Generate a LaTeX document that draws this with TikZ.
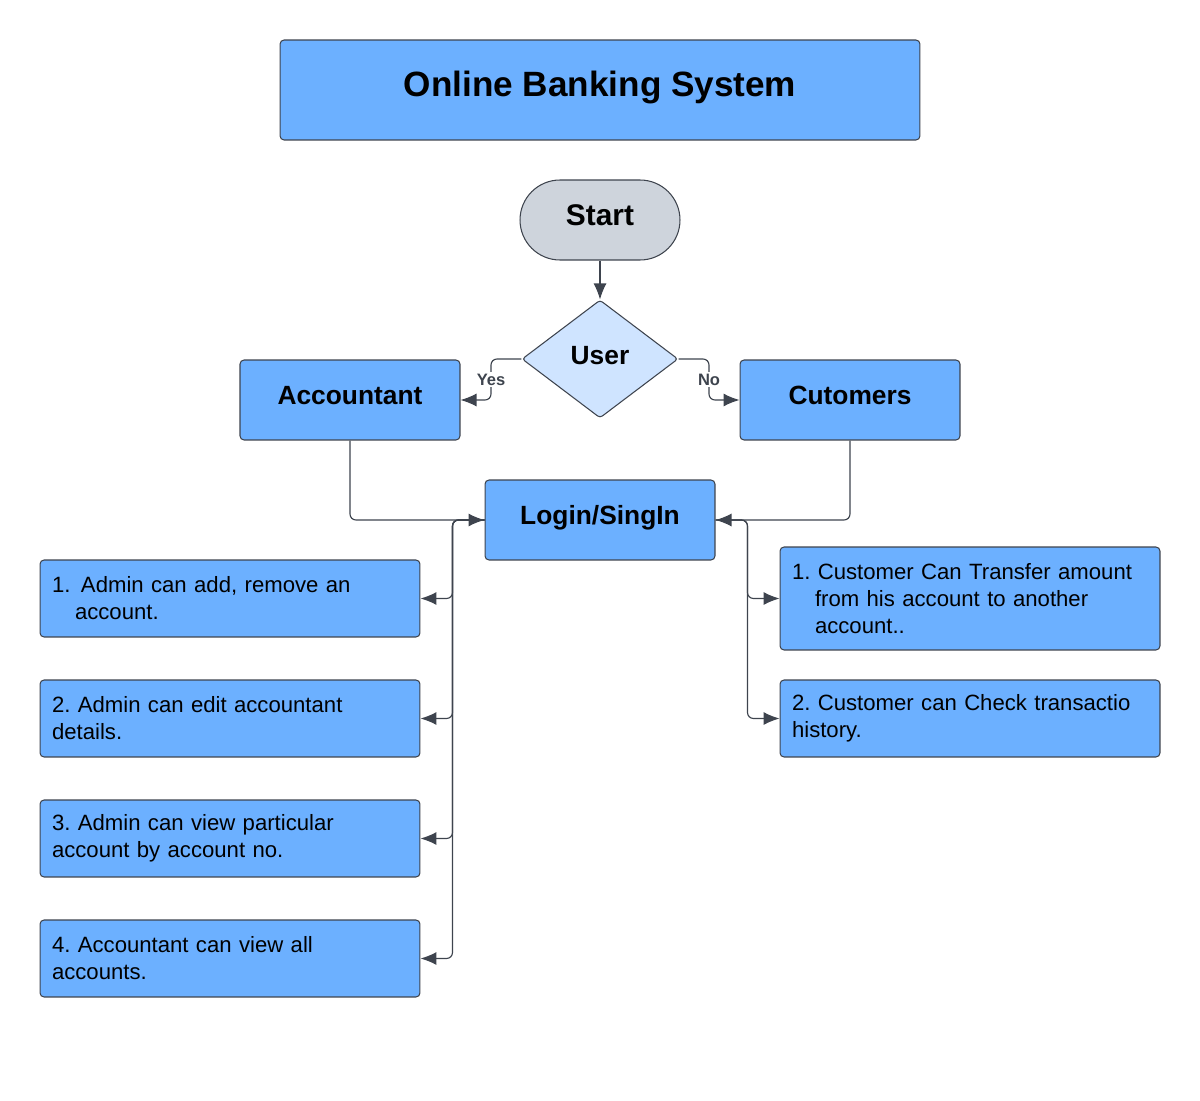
\documentclass[tikz,border=0pt]{standalone}
\usepackage{fontspec}
\setmainfont{Liberation Sans}
\usetikzlibrary{shapes.geometric,arrows.meta,calc}
\definecolor{boxblue}{RGB}{108,176,255}
\definecolor{lightblue}{RGB}{207,228,255}
\definecolor{startgray}{RGB}{206,212,220}
\definecolor{edge}{RGB}{62,68,78}
\frenchspacing

\begin{document}
\begin{tikzpicture}[x=0.02cm, y=-0.02cm,
        box/.style={draw=edge, fill=boxblue, rounded corners=0.08cm, line width=0.6pt},
        head/.style={box, font=\fontsize{15}{18}\selectfont\bfseries, text depth=0.2cm,
            minimum height=1.6cm, inner sep=0pt},
        item/.style={box, font=\fontsize{12.6}{15.3}\selectfont, align=left, text width=7.12cm,
            inner xsep=0.24cm, minimum width=7.6cm, minimum height=1.54cm},
        conn/.style={draw=edge, line width=0.65pt, rounded corners=0.12cm,
            -{Latex[length=0.32cm,width=0.26cm]}},
        lbl/.style={fill=white, inner sep=1pt, text=edge,
            font=\fontsize{9.4}{11}\selectfont\bfseries}]
        \useasboundingbox (0, 0) rectangle (1200, 1101);

        \node [box, minimum width=12.8cm, minimum height=2cm, inner sep=0pt, text depth=0.24cm,
            font=\fontsize{20}{24}\selectfont\bfseries] (title) at (600, 90) {Online Banking System};
        \node [head, fill=startgray, minimum width=3.2cm, rounded corners=0.8cm,
            font=\fontsize{17}{20}\selectfont\bfseries] (start) at (600, 220) {Start};
        \node [head, diamond, fill=lightblue, minimum width=3.12cm, minimum height=2.36cm,
            rounded corners=0.06cm, text depth=0.16cm] (user) at (600, 359) {User};
        \node [head, minimum width=4.4cm] (acc) at (350, 400) {Accountant};
        \node [head, minimum width=4.4cm] (cus) at (850, 400) {Cutomers};
        \node [head, minimum width=4.6cm] (login) at (600, 520) {Login/SingIn};

        % accountant tasks
        \node [item] (a1) at (230, 598.5) {1.\hspace{0.21cm}Admin can add, remove an\\\hspace*{0.46cm}account.};
        \node [item] (a2) at (230, 718.5) {2. Admin can edit accountant\\details.};
        \node [item] (a3) at (230, 838.5) {3. Admin can view particular\\account by account no.};
        \node [item] (a4) at (230, 958.5) {4. Accountant can view all\\accounts.};

        % customer tasks
        \node [item, minimum height=2.06cm] (c1) at (970, 598.5)
            {1. Customer Can Transfer amount\\\hspace*{0.46cm}from his account to another\\\hspace*{0.46cm}account..};
        \node [item] (c2) at (970, 718.5) {2. Customer can Check transactio\\history.};

        \draw [conn] (start) -- (user);
        \draw [conn] (user.west) -| ($(user.west)!0.5!(acc.east)$) |- (acc.east);
        \node [lbl] (yes) at ($(user.west)!0.5!(acc.east)$) {Yes};
        \draw [conn] (user.east) -| ($(user.east)!0.5!(cus.west)$) |- (cus.west);
        \node [lbl] (no) at ($(user.east)!0.5!(cus.west)$) {No};

        \draw [conn] (acc.south) |- (login.west);
        \draw [conn] (cus.south) |- (login.east);

        \coordinate (lbus) at ([xshift=-0.64cm]login.west);
        \coordinate (rbus) at ([xshift=0.64cm]login.east);
        \foreach \n in {a1, a2, a3, a4}
            \draw [conn] (login.west) -- (lbus) |- (\n.east);
        \foreach \n in {c1, c2}
            \draw [conn] (login.east) -- (rbus) |- (\n.west);
    \end{tikzpicture}
\end{document}
